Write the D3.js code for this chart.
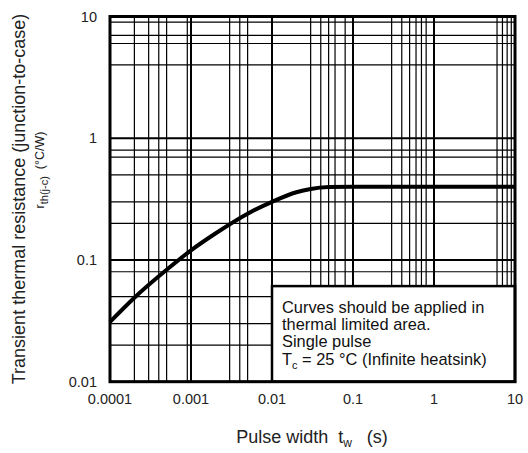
<!DOCTYPE html>
<html>
<head>
<meta charset="utf-8">
<script src="https://cdn.jsdelivr.net/npm/d3@7.9.0/dist/d3.min.js"></script>
<style>
  body { margin: 0; background: #fff; }
  svg { display: block; font-family: "Liberation Sans", Arial, sans-serif; }
</style>
</head>
<body>
<svg id="chart" width="528" height="453"></svg>
<script>
// pulse width (s) and transient thermal resistance (°C/W)
const pulseWidth = [0.0001, 0.0002, 0.0005, 0.001, 0.002, 0.005, 0.01, 0.02, 0.03, 0.05, 0.1, 1, 10];
const rth = [0.031, 0.049, 0.083, 0.12, 0.165, 0.24, 0.30, 0.36, 0.383, 0.397, 0.40, 0.40, 0.40];

const xTicks = [0.0001, 0.001, 0.01, 0.1, 1, 10];
const xTickLabels = ['0.0001', '0.001', '0.01', '0.1', '1', '10'];
const yTicks = [0.01, 0.1, 1, 10];
const yTickLabels = ['0.01', '0.1', '1', '10'];

// minor grid lines as they appear on the sheet
const xMinor = [0.0002, 0.0003, 0.0004, 0.0005, 0.0009,
  0.003, 0.004, 0.005,
  0.03, 0.04, 0.05, 0.06, 0.08,
  0.3, 0.4, 0.5, 0.6, 0.7, 0.8,
  6, 7, 8, 9];
const yMinor = [0.02, 0.03, 0.05, 0.08, 0.2, 0.3, 0.5, 0.7, 0.8, 4, 6, 7, 9];

const noteLines = ['Curves should be applied in', 'thermal limited area.', 'Single pulse'];
const noteBox = { x0: 0.01, y1: 0.061 };

const svg = d3.select('#chart');
const x = d3.scaleLog().domain([0.0001, 10]).range([110, 515]);
const y = d3.scaleLog().domain([0.01, 10]).range([381.7, 16.5]);

const grid = svg.append('g');
grid.selectAll('line.vx')
  .data(xMinor)
  .join('line')
  .attr('x1', d => x(d)).attr('x2', d => x(d))
  .attr('y1', y(10)).attr('y2', y(0.01))
  .attr('stroke', '#000').attr('stroke-width', 1.2);
grid.selectAll('line.hy')
  .data(yMinor)
  .join('line')
  .attr('x1', x(0.0001)).attr('x2', x(10))
  .attr('y1', d => y(d)).attr('y2', d => y(d))
  .attr('stroke', '#000').attr('stroke-width', 1.2);
grid.selectAll('line.vmaj')
  .data(xTicks)
  .join('line')
  .attr('x1', d => x(d)).attr('x2', d => x(d))
  .attr('y1', y(10)).attr('y2', y(0.01))
  .attr('stroke', '#000').attr('stroke-width', 2);
grid.selectAll('line.hmaj')
  .data(yTicks)
  .join('line')
  .attr('x1', x(0.0001)).attr('x2', x(10))
  .attr('y1', d => y(d)).attr('y2', d => y(d))
  .attr('stroke', '#000').attr('stroke-width', 2);

// curve
const pts = pulseWidth.map((d, i) => [d, rth[i]]);
const line = d3.line()
  .x(d => x(d[0]))
  .y(d => y(d[1]))
  .curve(d3.curveMonotoneX);
svg.append('path')
  .attr('d', line(pts))
  .attr('fill', 'none')
  .attr('stroke', '#000')
  .attr('stroke-width', 4);

// note box
svg.append('rect')
  .attr('x', x(noteBox.x0))
  .attr('y', y(noteBox.y1))
  .attr('width', x(10) - x(noteBox.x0))
  .attr('height', y(0.01) - y(noteBox.y1))
  .attr('fill', '#fff')
  .attr('stroke', '#000')
  .attr('stroke-width', 2.5);

const note = svg.append('g')
  .attr('font-size', 16.4)
  .attr('fill', '#111');
noteLines.forEach((t, i) => {
  note.append('text')
    .attr('x', x(noteBox.x0) + 10)
    .attr('y', 313 + i * 17)
    .text(t);
});
const tc = note.append('text').attr('x', x(noteBox.x0) + 10).attr('y', 365);
tc.append('tspan').text('T');
tc.append('tspan').attr('dy', 4).attr('font-size', 11).text('c');
tc.append('tspan').attr('dy', -4).text(' = 25 \u00B0C (Infinite heatsink)');

// frame
svg.append('rect')
  .attr('x', x(0.0001)).attr('y', y(10))
  .attr('width', x(10) - x(0.0001))
  .attr('height', y(0.01) - y(10))
  .attr('fill', 'none')
  .attr('stroke', '#000')
  .attr('stroke-width', 3);

// tick labels
svg.append('g')
  .attr('font-size', 14.5).attr('fill', '#222')
  .selectAll('text')
  .data(xTicks)
  .join('text')
  .attr('x', d => x(d))
  .attr('y', 404)
  .attr('text-anchor', 'middle')
  .text((d, i) => xTickLabels[i]);

svg.append('g')
  .attr('font-size', 14.5).attr('fill', '#222')
  .selectAll('text')
  .data(yTicks)
  .join('text')
  .attr('x', 97)
  .attr('y', d => y(d) + 5)
  .attr('text-anchor', 'end')
  .text((d, i) => yTickLabels[i]);

// axis titles
const xt = svg.append('text')
  .attr('x', 312).attr('y', 443)
  .attr('text-anchor', 'middle')
  .attr('font-size', 18).attr('fill', '#222')
  .style('white-space', 'pre');
xt.append('tspan').text('Pulse width  t');
xt.append('tspan').attr('dy', 4).attr('font-size', 12).text('w');
xt.append('tspan').attr('dy', -4).text('   (s)');

svg.append('text')
  .attr('transform', 'translate(25,199) rotate(-90)')
  .attr('text-anchor', 'middle')
  .attr('font-size', 18).attr('fill', '#222')
  .text('Transient thermal resistance (junction-to-case)');

const yt2 = svg.append('text')
  .attr('transform', 'translate(44,170) rotate(-90)')
  .attr('text-anchor', 'middle')
  .attr('font-size', 12.5).attr('fill', '#222')
  .style('white-space', 'pre');
yt2.append('tspan').text('r');
yt2.append('tspan').attr('dy', 4).attr('font-size', 11).text('th(j-c)');
yt2.append('tspan').attr('dy', -4).text('  (\u00B0C/W)');
</script>
</body>
</html>
